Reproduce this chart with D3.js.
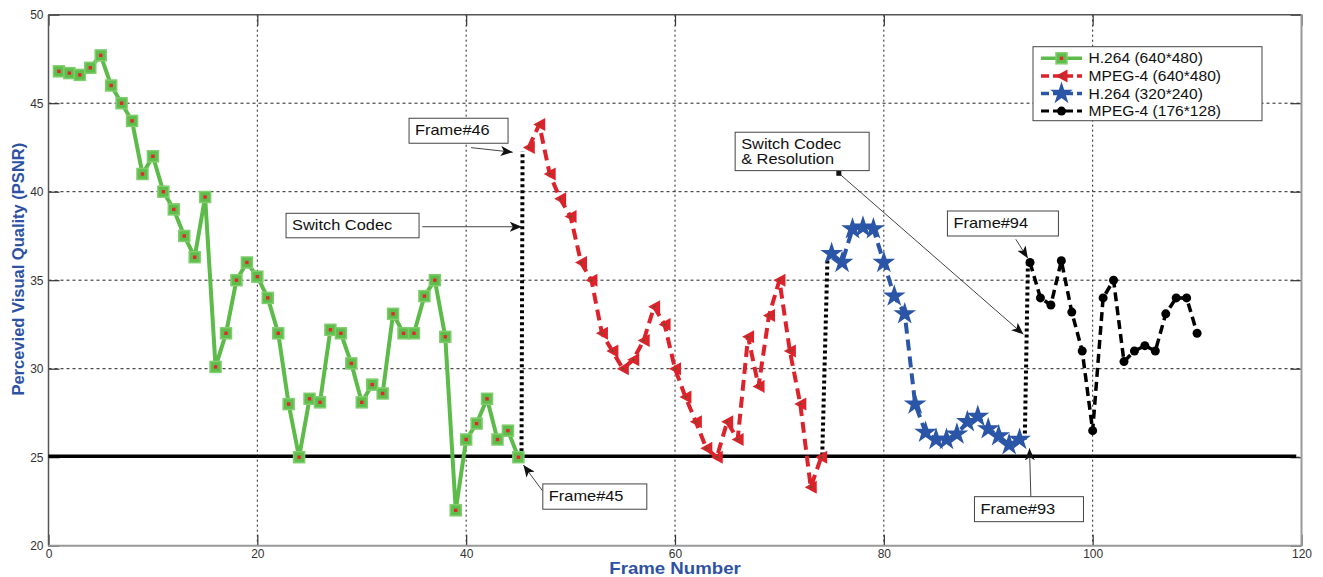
<!DOCTYPE html>
<html>
<head>
<meta charset="utf-8">
<script src="https://cdn.jsdelivr.net/npm/d3@7"></script>
<style>
  body { margin: 0; background: #fff; }
  text { font-family: 'Liberation Sans', Arial, sans-serif; }
</style>
</head>
<body>
<svg></svg>
<script>

// frame numbers and PSNR values, one pair of arrays per codec segment
let h264HiFrames = d3.range(1, 46)
let h264HiPsnr = [46.8, 46.7, 46.6, 47.0, 47.7, 46.0, 45.0, 44.0, 41.0, 42.0,
  40.0, 39.0, 37.5, 36.3, 39.7, 30.1, 32.0, 35.0, 36.0, 35.2,
  34.0, 32.0, 28.0, 25.0, 28.3, 28.1, 32.2, 32.0, 30.3, 28.1,
  29.1, 28.6, 33.1, 32.0, 32.0, 34.1, 35.0, 31.8, 22.0, 26.0,
  26.9, 28.3, 26.0, 26.5, 25.0]

let mpeg4HiFrames = d3.range(46, 75)
let mpeg4HiPsnr = [42.5, 43.8, 41.0, 39.6, 38.6, 36.0, 35.0, 32.0, 31.0, 30.0,
  30.5, 31.6, 33.5, 32.5, 30.0, 28.4, 27.0, 25.5, 25.0, 27.0,
  26.0, 31.8, 29.0, 33.0, 35.0, 31.0, 28.0, 23.3, 25.0]

let h264LoFrames = d3.range(75, 94)
let h264LoPsnr = [36.5, 36.0, 37.9, 38.0, 37.9, 36.0, 34.1, 33.1, 28.0, 26.4,
  26.0, 26.0, 26.3, 27.0, 27.3, 26.6, 26.2, 25.7, 26.0]

let mpeg4LoFrames = d3.range(94, 111)
let mpeg4LoPsnr = [36.0, 34.0, 33.6, 36.1, 33.2, 31.0, 26.5, 34.0, 35.0, 30.4,
  31.0, 31.3, 31.0, 33.1, 34.0, 34.0, 32.0]

let seriesNames = ['H.264 (640*480)', 'MPEG-4 (640*480)', 'H.264 (320*240)', 'MPEG-4 (176*128)']

let xTicks = [0, 20, 40, 60, 80, 100, 120]
let yTicks = [20, 25, 30, 35, 40, 45, 50]

let threshold = 25
let thresholdEnd = 119.5

// codec switch jumps: [frame, psnr] -> [frame, psnr]
let switches = [
  [[45.3, 25.0], [45.4, 42.3]],
  [[74.1, 25.1], [74.6, 36.2]],
  [[93.5, 26.0], [93.8, 36.0]]
]


let width = 1323, height = 577
let svg = d3.select('svg').attr('width', width).attr('height', height)

let pLeft = 48.5, pRight = 1301.5, pTop = 14.7, pBottom = 545.7

let x = d3.scaleLinear().domain([0, 120]).range([pLeft, pRight])
let y = d3.scaleLinear().domain([20, 50]).range([pBottom, pTop])

let stretch = 1.13

function wideText(parent, px, py, str, size, anchor) {
  let g = parent.append('g')
    .attr('transform', 'translate(' + px + ',' + py + ') scale(' + stretch + ',1)')
  return g.append('text')
    .attr('font-size', size)
    .attr('text-anchor', anchor || 'start')
    .text(str)
}

// grid
let grid = svg.append('g')
grid.selectAll('.gx')
  .data(xTicks.slice(1, -1))
  .enter().append('line')
  .attr('x1', d => x(d)).attr('x2', d => x(d))
  .attr('y1', pTop).attr('y2', pBottom)
  .attr('stroke', '#222').attr('stroke-width', 1).attr('stroke-dasharray', '2,3')
grid.selectAll('.gy')
  .data(yTicks.slice(1, -1))
  .enter().append('line')
  .attr('x1', pLeft).attr('x2', pRight)
  .attr('y1', d => y(d)).attr('y2', d => y(d))
  .attr('stroke', '#222').attr('stroke-width', 1).attr('stroke-dasharray', '3,3')

// axes (ticks inward on all sides, matlab style)
let tickLen = 11
let axes = svg.append('g')
axes.append('g')
  .attr('transform', 'translate(0,' + pBottom + ')')
  .call(d3.axisBottom(x).tickValues(xTicks).tickSize(-tickLen).tickPadding(4))
axes.append('g')
  .attr('transform', 'translate(0,' + pTop + ')')
  .call(d3.axisTop(x).tickValues(xTicks).tickSize(-tickLen).tickFormat(''))
axes.append('g')
  .attr('transform', 'translate(' + pLeft + ',0)')
  .call(d3.axisLeft(y).tickValues(yTicks).tickSize(-tickLen).tickPadding(5))
axes.append('g')
  .attr('transform', 'translate(' + pRight + ',0)')
  .call(d3.axisRight(y).tickValues(yTicks).tickSize(-tickLen).tickFormat(''))

axes.selectAll('.domain').remove()
axes.selectAll('.tick line').attr('stroke', '#333').attr('stroke-width', 1.2)
axes.selectAll('.tick text')
  .attr('font-family', "'Liberation Sans', Arial, sans-serif")
  .attr('font-size', 12).attr('fill', '#333')

// frame
svg.append('line').attr('x1', pLeft).attr('x2', pRight).attr('y1', pTop).attr('y2', pTop)
  .attr('stroke', '#555').attr('stroke-width', 1.5)
svg.append('line').attr('x1', pLeft).attr('x2', pLeft).attr('y1', pTop).attr('y2', pBottom)
  .attr('stroke', '#555').attr('stroke-width', 1.5)
svg.append('line').attr('x1', pLeft).attr('x2', pRight).attr('y1', pBottom).attr('y2', pBottom)
  .attr('stroke', '#999').attr('stroke-width', 2)
svg.append('line').attr('x1', pRight).attr('x2', pRight).attr('y1', pTop).attr('y2', pBottom)
  .attr('stroke', '#999').attr('stroke-width', 2)

// axis titles
let titleColor = '#2e52a3'
svg.append('g')
  .attr('transform', 'translate(24,' + ((pTop + pBottom) / 2 - 11) + ') rotate(-90)')
  .append('text')
  .attr('text-anchor', 'middle')
  .attr('font-size', 16.5).attr('font-weight', 'bold').attr('fill', titleColor)
  .text('Percevied Visual Quality (PSNR)')

wideText(svg, (pLeft + pRight) / 2, 574, 'Frame Number', 16.5, 'middle')
  .attr('font-weight', 'bold').attr('fill', titleColor)

// threshold
svg.append('line')
  .attr('x1', x(0)).attr('x2', x(thresholdEnd))
  .attr('y1', y(threshold) - 1).attr('y2', y(threshold) - 1)
  .attr('stroke', '#000').attr('stroke-width', 3.5)

// switch jumps
svg.selectAll('.jump')
  .data(switches)
  .enter().append('line')
  .attr('x1', d => x(d[0][0])).attr('y1', d => y(d[0][1]))
  .attr('x2', d => x(d[1][0])).attr('y2', d => y(d[1][1]))
  .attr('stroke', '#000').attr('stroke-width', 4).attr('stroke-dasharray', '3,3')

// series
let green = '#5dbb4a', red = '#dc222a', blue = '#2b55a7', black = '#000'

let series = [
  { frames: h264HiFrames, psnr: h264HiPsnr, color: green, dash: null, width: 4, marker: 'square' },
  { frames: mpeg4HiFrames, psnr: mpeg4HiPsnr, color: red, dash: '11,6', width: 4, marker: 'tri' },
  { frames: h264LoFrames, psnr: h264LoPsnr, color: blue, dash: '11,6', width: 4, marker: 'star' },
  { frames: mpeg4LoFrames, psnr: mpeg4LoPsnr, color: black, dash: '9,5', width: 3.5, marker: 'circle' }
]

let line = d3.line().x(d => x(d[0])).y(d => y(d[1]))

function drawMarker(g, kind, color) {
  if (kind === 'square') {
    g.append('rect').attr('x', -5.5).attr('y', -5.5).attr('width', 11).attr('height', 11)
      .attr('fill', '#5fbd4c').attr('stroke', '#80cd6d').attr('stroke-width', 1.5)
    g.append('rect').attr('x', -1.7).attr('y', -1.7).attr('width', 3.4).attr('height', 3.4)
      .attr('fill', '#e3262d')
  } else if (kind === 'tri') {
    g.append('path').attr('d', 'M-6,0L6,-6.5L6,6.5Z').attr('fill', color)
    g.append('circle').attr('r', 1).attr('fill', '#2a6a2a')
  } else if (kind === 'star') {
    g.append('path').attr('d', d3.symbol(d3.symbolStar, 160)()).attr('fill', color)
  } else {
    g.append('circle').attr('r', 4.5).attr('fill', color)
  }
}

series.forEach(s => {
  let pts = s.frames.map((f, i) => [f, s.psnr[i]])
  svg.append('path')
    .datum(pts)
    .attr('d', line)
    .attr('fill', 'none')
    .attr('stroke', s.color)
    .attr('stroke-width', s.width)
    .attr('stroke-dasharray', s.dash)
    .attr('stroke-linejoin', 'round')

  svg.append('g').selectAll('g')
    .data(pts)
    .enter().append('g')
    .attr('transform', d => 'translate(' + x(d[0]) + ',' + y(d[1]) + ')')
    .each(function() { drawMarker(d3.select(this), s.marker, s.color) })
})

// arrowheads
svg.append('defs').append('marker')
  .attr('id', 'head')
  .attr('viewBox', '0 0 12 10')
  .attr('refX', 12).attr('refY', 5)
  .attr('markerWidth', 12).attr('markerHeight', 10)
  .attr('markerUnits', 'userSpaceOnUse')
  .attr('orient', 'auto')
  .append('path')
  .attr('d', 'M0,0L12,5L0,10L3,5Z')
  .attr('fill', '#111')

// annotations: boxes and arrows in data coordinates
let notes = [
  { lines: ['Frame#46'], bx: 34.53, by: 44.15, w: 99, h: 25, from: [40.47, 42.49], to: [44.46, 42.23] },
  { lines: ['Switch Codec'], bx: 22.75, by: 38.78, w: 133, h: 24.5, from: [35.8, 38.02], to: [45.33, 38.02] },
  { lines: ['Frame#45'], bx: 47.34, by: 23.49, w: 104, h: 25.3, from: [47.3, 23.11], to: [45.48, 24.56] },
  { lines: ['Switch Codec', '& Resolution'], bx: 65.76, by: 43.36, w: 134, h: 38.4, from: [75.69, 41.04], to: [93.37, 31.94], dot: true },
  { lines: ['Frame#94'], bx: 86.09, by: 38.91, w: 111, h: 25, from: [92.64, 37.31], to: [93.79, 36.24] },
  { lines: ['Frame#93'], bx: 88.68, by: 22.77, w: 109, h: 25, from: [94.08, 22.77], to: [93.95, 25.5] }
]

notes.forEach(n => {
  let g = svg.append('g')
  g.append('line')
    .attr('x1', x(n.from[0])).attr('y1', y(n.from[1]))
    .attr('x2', x(n.to[0])).attr('y2', y(n.to[1]))
    .attr('stroke', '#444').attr('stroke-width', 1)
    .attr('marker-end', 'url(#head)')
  if (n.dot) {
    g.append('rect')
      .attr('x', x(n.from[0]) - 2.5).attr('y', y(n.from[1]) - 2.5)
      .attr('width', 5).attr('height', 5).attr('fill', '#111')
  }
  g.append('rect')
    .attr('x', x(n.bx)).attr('y', y(n.by))
    .attr('width', n.w).attr('height', n.h)
    .attr('fill', '#fff').attr('stroke', '#444').attr('stroke-width', 1)
  n.lines.forEach((t, i) => {
    wideText(g, x(n.bx) + 6, y(n.by) + 17 + i * 15, t, 14.5)
      .attr('fill', '#111')
  })
})

// legend
let lg = svg.append('g').attr('transform', 'translate(1033,46.7)')
lg.append('rect')
  .attr('width', 229).attr('height', 74)
  .attr('fill', '#fff').attr('stroke', '#444').attr('stroke-width', 1)

series.forEach((s, i) => {
  let row = lg.append('g').attr('transform', 'translate(0,' + (11.6 + i * 17.6) + ')')
  row.append('line')
    .attr('x1', 8).attr('x2', 49)
    .attr('stroke', s.color).attr('stroke-width', s.width - 0.5)
    .attr('stroke-dasharray', s.dash ? '8,4' : null)
  let m = row.append('g').attr('transform', 'translate(28.5,0)')
  drawMarker(m, s.marker, s.color)
  wideText(row, 55.5, 5, seriesNames[i], 13.8).attr('fill', '#111')
})

</script>
</body>
</html>
